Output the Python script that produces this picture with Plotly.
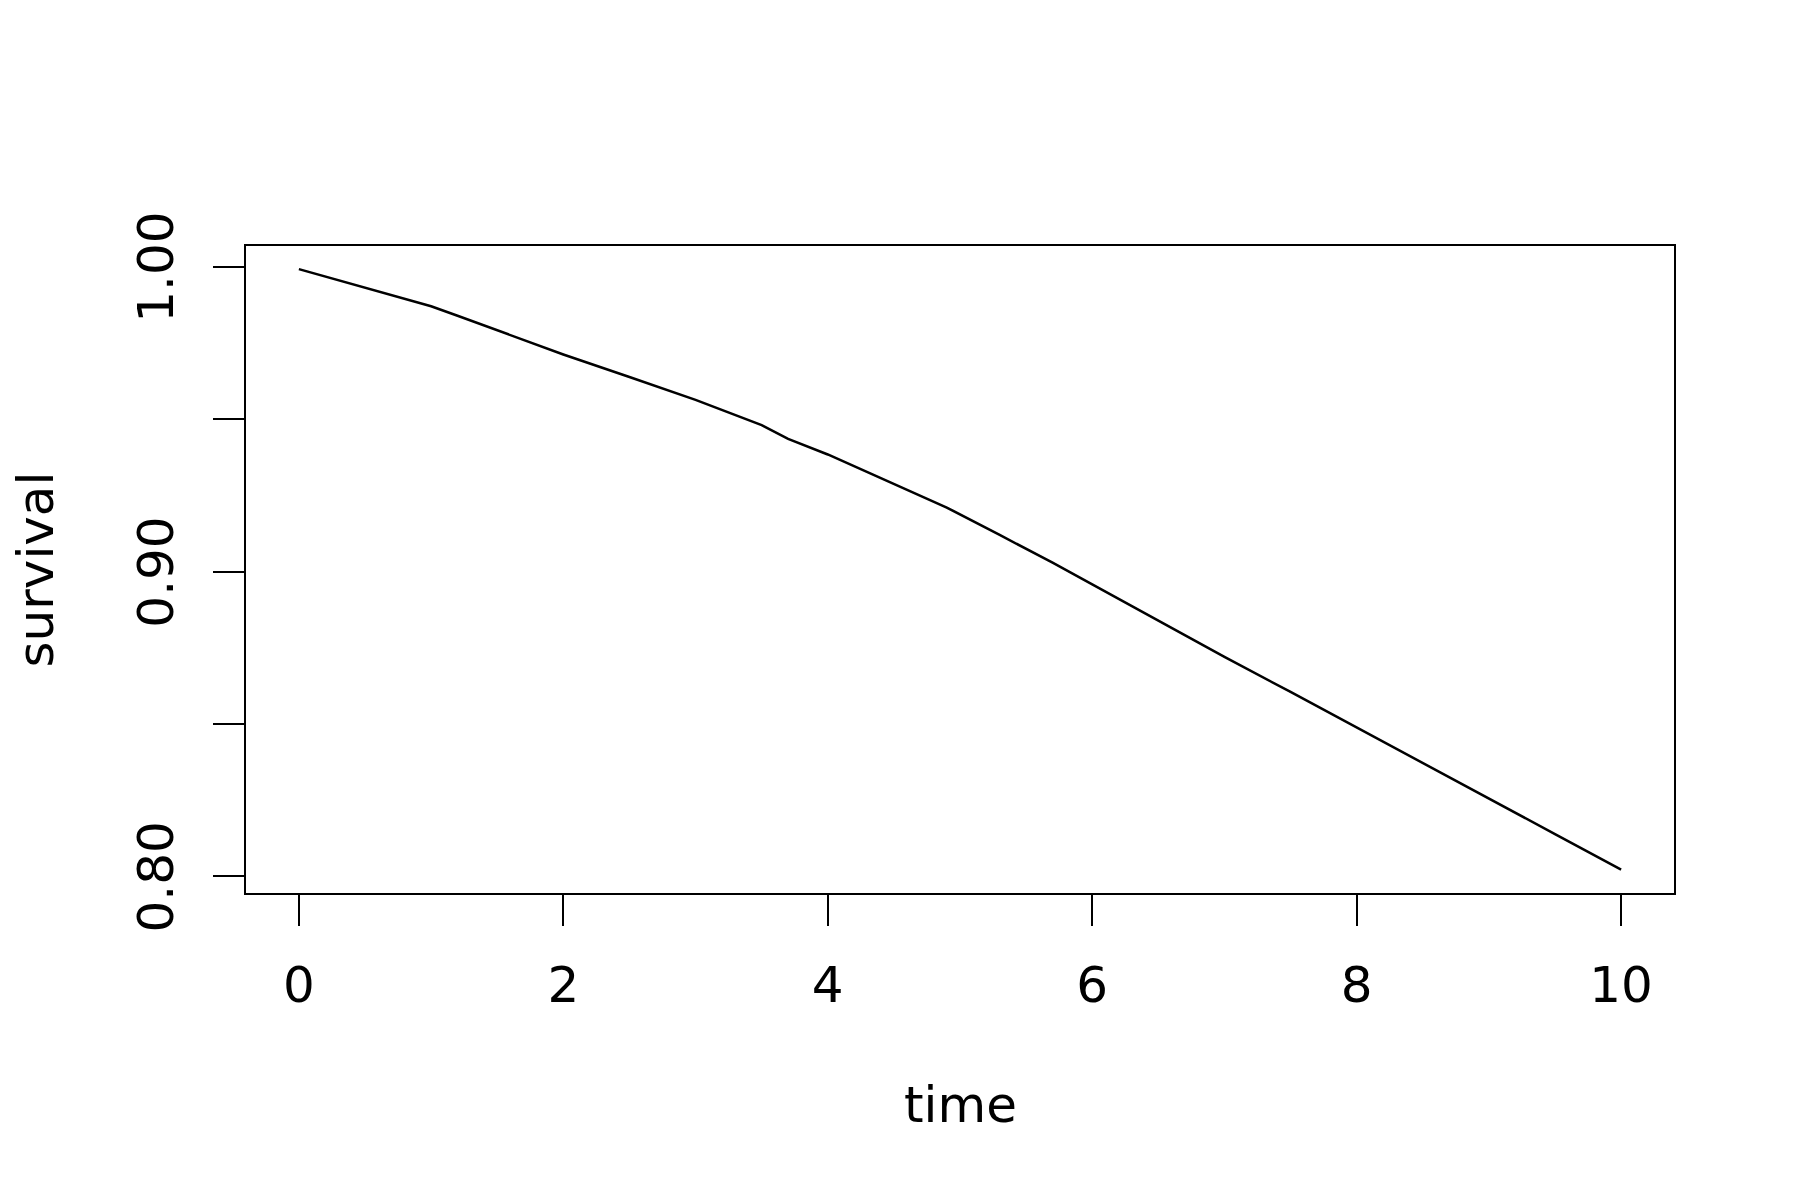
import plotly.graph_objects as go

# survival curve
time = [0, 0.5, 1.0, 1.2, 1.5, 2.0, 2.5, 3.0, 3.5, 3.7, 4.0, 4.5, 4.9,
        5.3, 5.7, 6.0, 6.5, 7.0, 7.5, 8.0, 8.5, 9.0, 9.5, 10]
survival = [0.9992, 0.9930, 0.9870, 0.9839, 0.9791, 0.9712, 0.9638, 0.9563,
            0.9480, 0.9435, 0.9384, 0.9288, 0.9210, 0.9120, 0.9029, 0.8958,
            0.8838, 0.8720, 0.8605, 0.8489, 0.8372, 0.8255, 0.8139, 0.8022]

x_ticks = [0, 2, 4, 6, 8, 10]
y_ticks = [0.80, 0.85, 0.90, 0.95, 1.00]
# trailing no-break space nudges the rotated labels to sit centred on the tick
y_ticktext = ["0.80\u00a0", "", "0.90\u00a0", "", "1.00\u00a0"]

font = dict(family="DejaVu Sans", size=50, color="black")

fig = go.Figure()
fig.add_trace(go.Scatter(x=time, y=survival, mode="lines",
                         line=dict(color="black", width=2.5),
                         showlegend=False, hoverinfo="skip"))

axis_common = dict(showgrid=False, zeroline=False, showline=True, mirror=True,
                   linecolor="black", linewidth=2, ticks="outside", ticklen=31,
                   tickwidth=2, tickcolor="black", tickfont=font)

# page body adds an 8px offset, margins compensate for it
fig.update_layout(
    width=1800, height=1200,
    margin=dict(l=238, r=134, t=238, b=315),
    plot_bgcolor="white", paper_bgcolor="white",
    font=font,
    xaxis=dict(range=[-0.4, 10.4], tickvals=x_ticks, ticklabelstandoff=16,
               **axis_common),
    yaxis=dict(range=[0.79456, 1.00678], tickvals=y_ticks, ticktext=y_ticktext,
               tickangle=-90, ticklabelstandoff=20, **axis_common),
    annotations=[
        dict(text="time", x=0.5, y=0, xref="paper", yref="paper",
             xanchor="center", yanchor="middle", yshift=-212,
             showarrow=False, font=font),
        dict(text="survival", x=0, y=0.5, xref="paper", yref="paper",
             xanchor="center", yanchor="middle", xshift=-211, textangle=-90,
             showarrow=False, font=font),
    ],
)

fig.write_html("out.html")
